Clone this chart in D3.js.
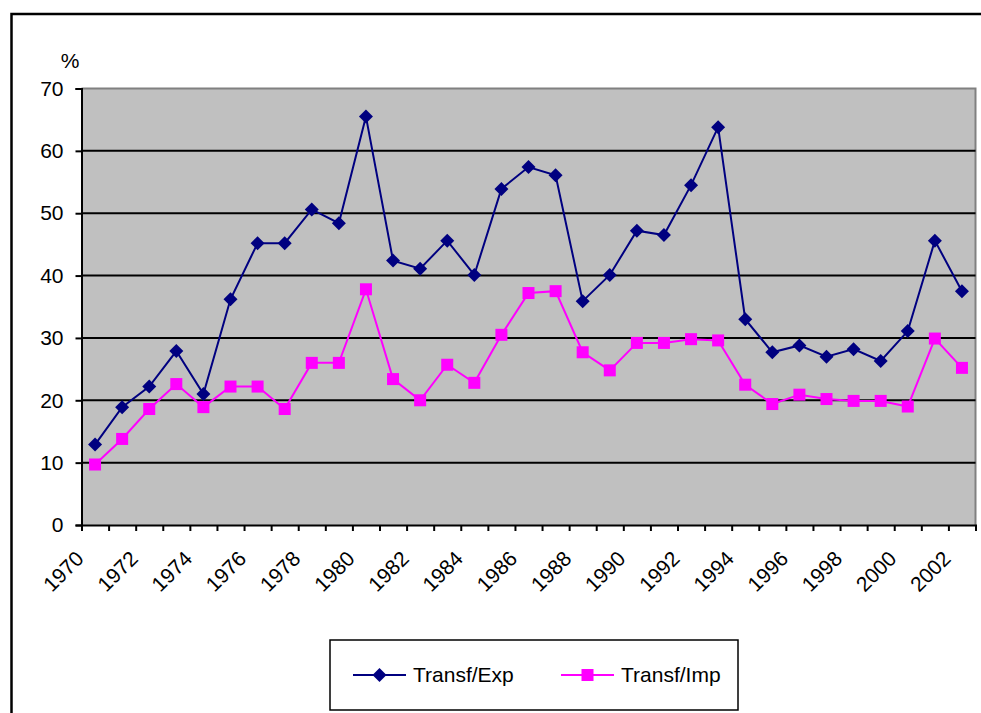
<!DOCTYPE html>
<html>
<head>
<meta charset="utf-8">
<script src="https://cdn.jsdelivr.net/npm/d3@7"></script>
<style>
  body { margin: 0; background: #fff; }
  text { font-family: Arial, "Liberation Sans", sans-serif; fill: #000; }
</style>
</head>
<body>
<div id="chart"></div>
<script>
// data
var years = d3.range(1970, 2003);
var transfExp = [12.9, 18.9, 22.2, 27.9, 21.0, 36.2, 45.2, 45.2, 50.6, 48.4,
                 65.5, 42.4, 41.1, 45.6, 40.1, 53.9, 57.4, 56.1, 35.9, 40.1,
                 47.2, 46.5, 54.5, 63.8, 33.0, 27.7, 28.8, 27.0, 28.2, 26.3,
                 31.1, 45.6, 37.5];
var transfImp = [9.7, 13.8, 18.6, 22.6, 18.9, 22.2, 22.2, 18.6, 26.0, 26.0,
                 37.8, 23.4, 20.0, 25.7, 22.8, 30.5, 37.2, 37.5, 27.7, 24.8,
                 29.2, 29.2, 29.8, 29.6, 22.5, 19.4, 20.9, 20.2, 19.9, 19.9,
                 19.0, 29.9, 25.2];
var seriesNames = ["Transf/Exp", "Transf/Imp"];
var yTicks = [0, 10, 20, 30, 40, 50, 60, 70];
var labelYears = years.filter(function(y){ return y % 2 == 0; });

var W = 981, H = 713;
var plot = {left: 81.5, right: 975.5, top: 88.5, bottom: 525};

var svg = d3.select("#chart").append("svg")
    .attr("width", W).attr("height", H);

// outer frame (runs off the right and bottom edges)
svg.append("rect")
    .attr("x", 11.5).attr("y", 14)
    .attr("width", 1000).attr("height", 720)
    .attr("fill", "none").attr("stroke", "#000").attr("stroke-width", 2.5);

var x = d3.scaleBand().domain(years).range([plot.left, plot.right]);
var xEdge = d3.scaleLinear().domain([0, years.length]).range([plot.left, plot.right]);
var y = d3.scaleLinear().domain([0, 70]).range([plot.bottom, plot.top]);
var cx = function(d, i){ return x(years[i]) + x.bandwidth() / 2; };

// plot area
svg.append("rect")
    .attr("x", plot.left).attr("y", plot.top)
    .attr("width", plot.right - plot.left).attr("height", plot.bottom - plot.top)
    .attr("fill", "#c0c0c0");
svg.append("path")
    .attr("d", "M" + plot.left + "," + plot.top + "H" + plot.right + "V" + plot.bottom)
    .attr("fill", "none").attr("stroke", "#808080").attr("stroke-width", 2);

// gridlines
svg.selectAll(".grid")
    .data(yTicks.filter(function(v){ return v > 0 && v < 70; }))
    .enter().append("line")
    .attr("x1", plot.left).attr("x2", plot.right)
    .attr("y1", function(d){ return y(d); }).attr("y2", function(d){ return y(d); })
    .attr("stroke", "#000").attr("stroke-width", 2);

// y axis
var yAxis = svg.append("g")
    .attr("transform", "translate(" + plot.left + ",0)")
    .call(d3.axisLeft(y).tickValues(yTicks).tickSize(6).tickPadding(12));
yAxis.select(".domain").attr("stroke-width", 2);
yAxis.selectAll(".tick line").attr("stroke-width", 2);
yAxis.selectAll("text").style("font-size", "21px").attr("font-family", null);

svg.append("text")
    .attr("x", 70).attr("y", 68)
    .attr("text-anchor", "middle")
    .style("font-size", "21px")
    .text("%");

// x axis: tick marks on category edges
var xAxis = svg.append("g")
    .attr("transform", "translate(0," + plot.bottom + ")")
    .call(d3.axisBottom(xEdge).tickValues(d3.range(years.length + 1)).tickSize(6).tickFormat(""));
xAxis.select(".domain").attr("stroke-width", 2);
xAxis.selectAll(".tick line").attr("stroke-width", 2);

// x labels, rotated
var xLab = svg.append("g")
    .attr("transform", "translate(0," + plot.bottom + ")")
    .call(d3.axisBottom(x).tickValues(labelYears).tickSize(0));
xLab.select(".domain").remove();
xLab.selectAll("text")
    .attr("y", 0).attr("dy", 0)
    .attr("font-family", null)
    .style("font-size", "21px")
    .style("text-anchor", "end")
    .attr("transform", "translate(-10,35) rotate(-45)");

// lines
var line = d3.line()
    .x(cx)
    .y(function(d){ return y(d); });

svg.append("path").datum(transfImp)
    .attr("d", line).attr("fill", "none")
    .attr("stroke", "#ff00ff").attr("stroke-width", 2);
svg.append("path").datum(transfExp)
    .attr("d", line).attr("fill", "none")
    .attr("stroke", "#000080").attr("stroke-width", 2);

var diamond = "M0,-7L7,0L0,7L-7,0Z";

svg.selectAll(".sq")
    .data(transfImp).enter().append("rect")
    .attr("x", function(d, i){ return cx(d, i) - 6; })
    .attr("y", function(d){ return y(d) - 6; })
    .attr("width", 12).attr("height", 12)
    .attr("fill", "#ff00ff");

svg.selectAll(".dm")
    .data(transfExp).enter().append("path")
    .attr("d", diamond)
    .attr("transform", function(d, i){ return "translate(" + cx(d, i) + "," + y(d) + ")"; })
    .attr("fill", "#000080");

// legend
var lg = svg.append("g");
lg.append("rect")
    .attr("x", 330).attr("y", 640).attr("width", 408).attr("height", 70)
    .attr("fill", "#fff").attr("stroke", "#000").attr("stroke-width", 1.5);

var legendItems = [
  {name: seriesNames[0], color: "#000080", x0: 353, marker: "diamond"},
  {name: seriesNames[1], color: "#ff00ff", x0: 561, marker: "square"}
];
legendItems.forEach(function(it){
  lg.append("line")
    .attr("x1", it.x0).attr("x2", it.x0 + 53)
    .attr("y1", 675).attr("y2", 675)
    .attr("stroke", it.color).attr("stroke-width", 2);
  if (it.marker == "diamond") {
    lg.append("path").attr("d", diamond)
      .attr("transform", "translate(" + (it.x0 + 26.5) + ",675)")
      .attr("fill", it.color);
  } else {
    lg.append("rect")
      .attr("x", it.x0 + 20.5).attr("y", 669).attr("width", 12).attr("height", 12)
      .attr("fill", it.color);
  }
  lg.append("text")
    .attr("x", it.x0 + 60).attr("y", 682)
    .style("font-size", "21px")
    .text(it.name);
});
</script>
</body>
</html>
